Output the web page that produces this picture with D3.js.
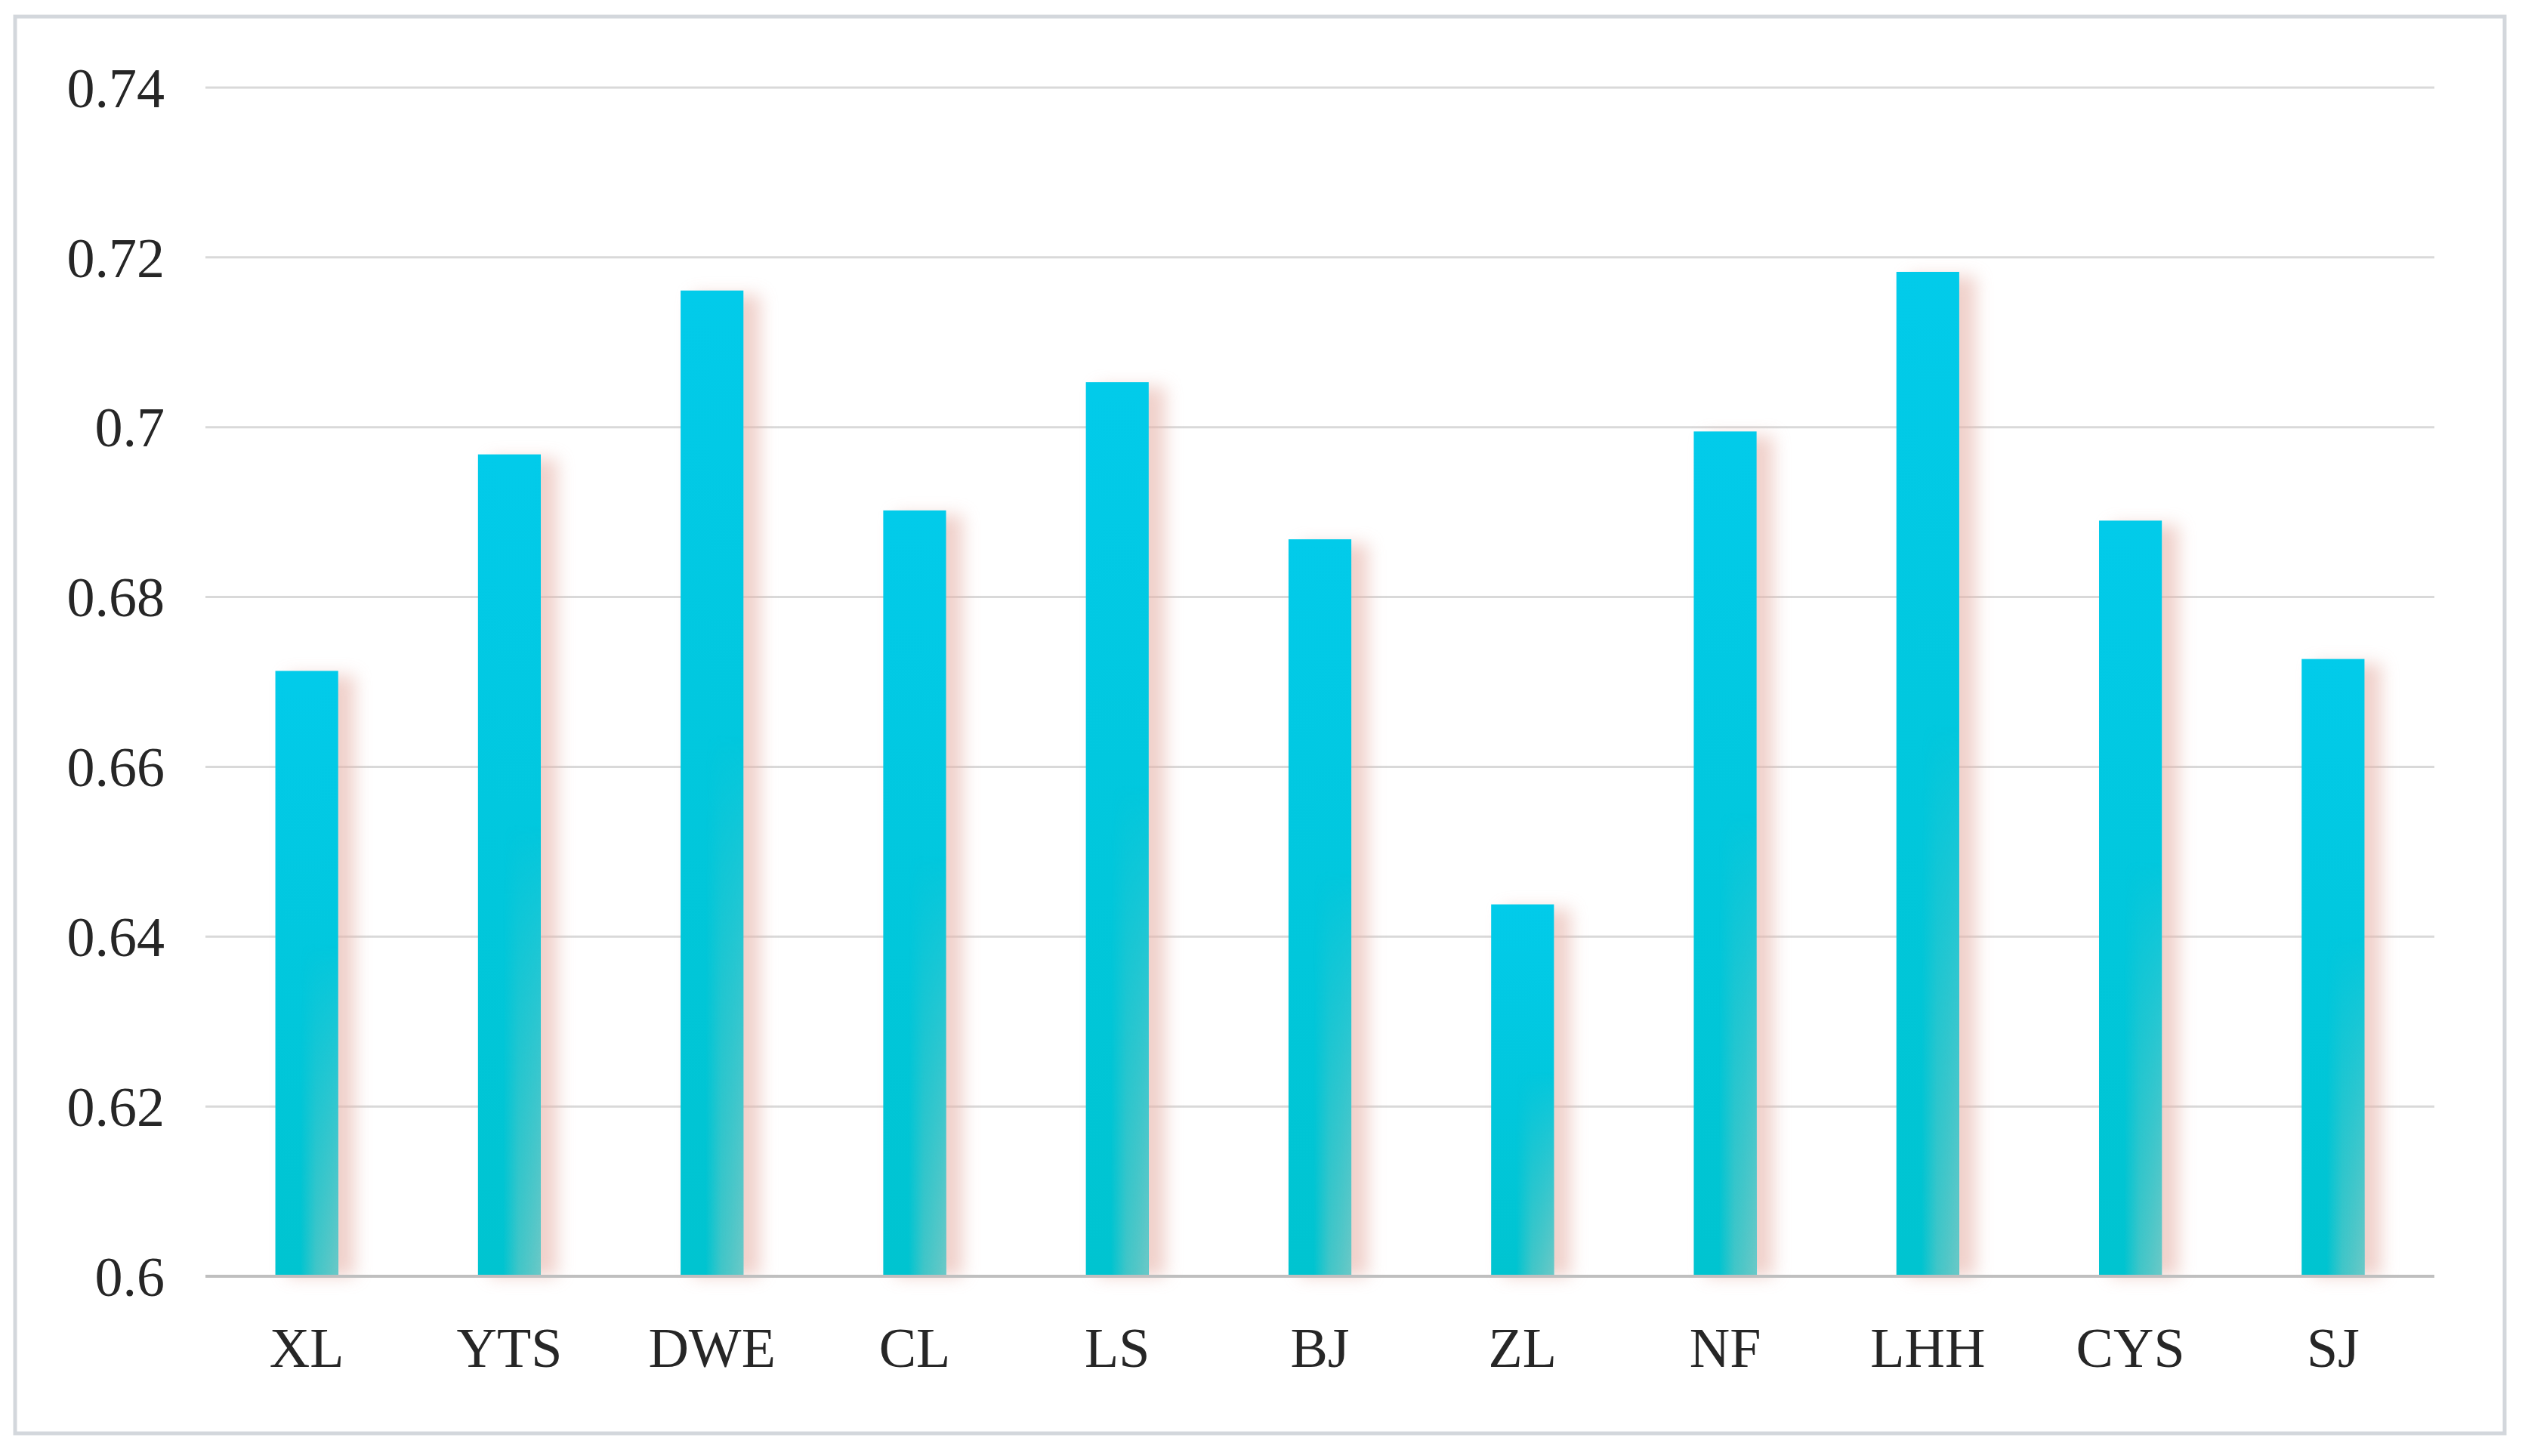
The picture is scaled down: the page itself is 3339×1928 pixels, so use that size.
<!DOCTYPE html>
<html>
<head>
<meta charset="utf-8">
<script src="https://cdn.jsdelivr.net/npm/d3@7"></script>
<style>
  html, body { margin: 0; padding: 0; background: #ffffff; }
  svg { display: block; }
</style>
</head>
<body>
<script>
const categories = ["XL", "YTS", "DWE", "CL", "LS", "BJ", "ZL", "NF", "LHH", "CYS", "SJ"];
const values = [0.6713, 0.6968, 0.7161, 0.6902, 0.7053, 0.6868, 0.6438, 0.6995, 0.7183, 0.6890, 0.6727];
const yTicks = [0.6, 0.62, 0.64, 0.66, 0.68, 0.7, 0.72, 0.74];
const yTickLabels = ["0.6", "0.62", "0.64", "0.66", "0.68", "0.7", "0.72", "0.74"];

const W = 3339, H = 1928;
const margin = { left: 272, right: 3339 - 3223, top: 116, bottom: 1928 - 1690 };

const svg = d3.select("body").append("svg").attr("width", W).attr("height", H);
const defs = svg.append("defs");

// bar gradients
const gBase = defs.append("linearGradient").attr("id", "barBase")
  .attr("x1", 0).attr("y1", 0).attr("x2", 0).attr("y2", 1);
gBase.append("stop").attr("offset", "0%").attr("stop-color", "#02cbea");
gBase.append("stop").attr("offset", "100%").attr("stop-color", "#00c4d0");

const gOver = defs.append("linearGradient").attr("id", "barOver")
  .attr("x1", 0).attr("y1", 0).attr("x2", 1).attr("y2", 0);
gOver.append("stop").attr("offset", "40%").attr("stop-color", "#5ec6c4").attr("stop-opacity", 0);
gOver.append("stop").attr("offset", "65%").attr("stop-color", "#5ec6c4").attr("stop-opacity", 0.7);
gOver.append("stop").attr("offset", "100%").attr("stop-color", "#6cc8c6").attr("stop-opacity", 1);

const gMask = defs.append("linearGradient").attr("id", "barMaskGrad")
  .attr("x1", 0).attr("y1", 0).attr("x2", 0).attr("y2", 1);
gMask.append("stop").attr("offset", "45%").attr("stop-color", "#fff").attr("stop-opacity", 0);
gMask.append("stop").attr("offset", "100%").attr("stop-color", "#fff").attr("stop-opacity", 1);

const shadowFilter = defs.append("filter").attr("id", "shadowBlur")
  .attr("x", "-100%").attr("y", "-20%").attr("width", "300%").attr("height", "140%");
shadowFilter.append("feGaussianBlur").attr("stdDeviation", 11);

// frame
svg.append("rect")
  .attr("x", 20).attr("y", 22).attr("width", 3296).attr("height", 1876)
  .attr("fill", "#ffffff").attr("stroke", "#d3d7dc").attr("stroke-width", 5);

const x = d3.scaleBand().domain(categories)
  .range([margin.left, W - margin.right]).paddingInner(0.69).paddingOuter(0.345);
const y = d3.scaleLinear().domain([0.6, 0.74]).range([H - margin.bottom, margin.top]);

// gridlines
svg.append("g").selectAll("line").data(yTicks.filter(d => d > 0.6)).join("line")
  .attr("x1", margin.left).attr("x2", W - margin.right)
  .attr("y1", d => y(d)).attr("y2", d => y(d))
  .attr("stroke", "#d9d9d9").attr("stroke-width", 3);

// shadows
svg.append("g").selectAll("rect").data(values).join("rect")
  .attr("x", (d, i) => x(categories[i]) + 16)
  .attr("y", d => y(d) + 6)
  .attr("width", x.bandwidth() + 6)
  .attr("height", d => y(0.6) - y(d) - 6)
  .attr("fill", "#e6b2a8").attr("opacity", 0.6)
  .attr("filter", "url(#shadowBlur)");

// bars
const bars = svg.append("g");
values.forEach((v, i) => {
  const bx = x(categories[i]), by = y(v), bw = x.bandwidth(), bh = y(0.6) - y(v);
  const mid = "m" + i;
  defs.append("mask").attr("id", mid).attr("maskContentUnits", "objectBoundingBox")
    .append("rect").attr("x", 0).attr("y", 0).attr("width", 1).attr("height", 1)
    .attr("fill", "url(#barMaskGrad)");
  bars.append("rect").attr("x", bx).attr("y", by).attr("width", bw).attr("height", bh)
    .attr("fill", "url(#barBase)");
  bars.append("rect").attr("x", bx).attr("y", by).attr("width", bw).attr("height", bh)
    .attr("fill", "url(#barOver)").attr("mask", `url(#${mid})`);
});

// baseline
svg.append("line")
  .attr("x1", margin.left).attr("x2", W - margin.right)
  .attr("y1", y(0.6)).attr("y2", y(0.6))
  .attr("stroke", "#bfbfbf").attr("stroke-width", 4);

// y axis labels
const yAxis = d3.axisLeft(y).tickValues(yTicks)
  .tickFormat((d, i) => yTickLabels[i]).tickSize(0).tickPadding(0);
const ya = svg.append("g").attr("transform", "translate(218,0)").call(yAxis);
ya.select(".domain").remove();
ya.selectAll("text")
  .attr("font-family", "'Liberation Serif', 'Times New Roman', serif")
  .attr("font-size", 74).attr("fill", "#262626").attr("dy", "0.34em").attr("x", 0);

// x axis labels
const xAxis = d3.axisBottom(x).tickSize(0).tickPadding(0);
const xa = svg.append("g").attr("transform", `translate(0,${y(0.6)})`).call(xAxis);
xa.select(".domain").remove();
xa.selectAll("text")
  .attr("font-family", "'Liberation Serif', 'Times New Roman', serif")
  .attr("font-size", 74).attr("fill", "#262626")
  .attr("y", 120).attr("dy", 0);
</script>
</body>
</html>
